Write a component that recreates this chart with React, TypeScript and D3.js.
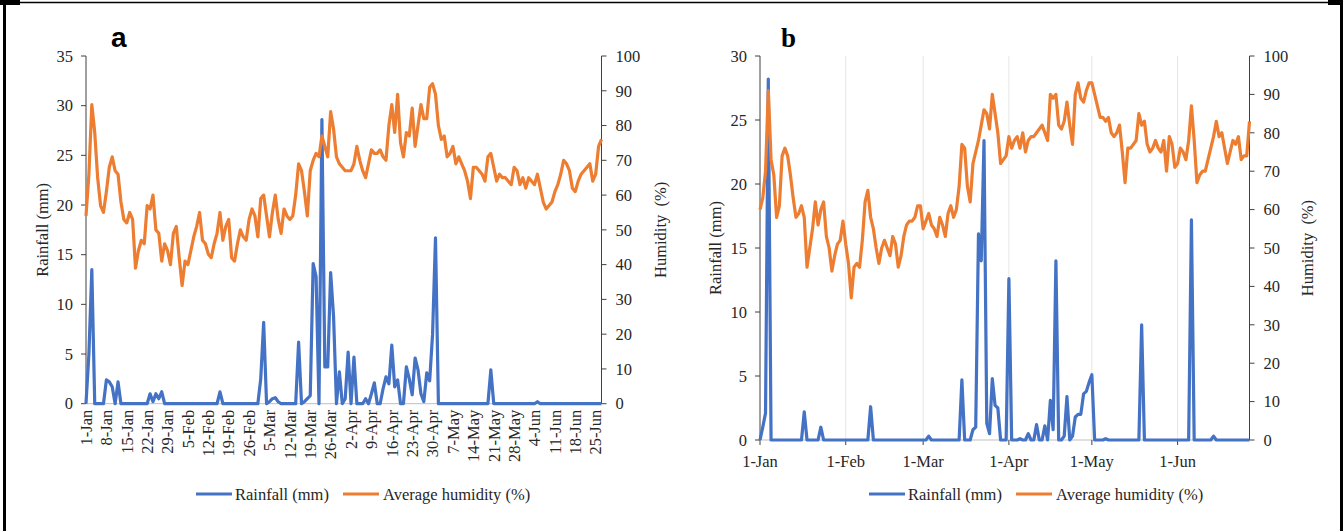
import React from 'react';
import * as d3 from 'd3';

const YEAR = 2021;
const START = new Date(YEAR, 0, 1);

// Panel a tick labels (weekly) and panel b tick labels (monthly)
const aTickLabels = ["1-Jan","8-Jan","15-Jan","22-Jan","29-Jan","5-Feb","12-Feb","19-Feb","26-Feb","5-Mar","12-Mar","19-Mar","26-Mar","2-Apr","9-Apr","16-Apr","23-Apr","30-Apr","7-May","14-May","21-May","28-May","4-Jun","11-Jun","18-Jun","25-Jun"];
const bTickLabels = ["1-Jan","1-Feb","1-Mar","1-Apr","1-May","1-Jun"];

const aRainTicks = [0, 5, 10, 15, 20, 25, 30, 35];
const bRainTicks = [0, 5, 10, 15, 20, 25, 30];
const humTicks = [0, 10, 20, 30, 40, 50, 60, 70, 80, 90, 100];

// Daily series, 1-Jan .. 27-Jun
const aHumidity = [
  54, 66, 86, 78, 65, 57, 55, 61, 68, 71,
  67, 66, 58, 53, 52, 55, 53, 39, 44, 47,
  46, 57, 56, 60, 50, 49, 41, 46, 44, 40,
  49, 51, 42, 34, 41, 40, 44, 48, 51, 55,
  47, 46, 43, 42, 46, 49, 55, 47, 51, 53,
  42, 41, 46, 50, 48, 47, 53, 56, 54, 48,
  59, 60, 54, 48, 55, 60, 53, 49, 56, 54,
  53, 54, 60, 69, 67, 61, 54, 67, 70, 72,
  71, 77, 74, 71, 84, 79, 71, 69, 68, 67,
  67, 67, 69, 74, 70, 67, 65, 69, 73, 72,
  72, 73, 71, 70, 80, 86, 78, 89, 75, 71,
  78, 77, 85, 74, 80, 86, 82, 82, 91, 92,
  89, 80, 76, 77, 71, 72, 74, 69, 71, 69,
  67, 64, 59, 68, 68, 67, 66, 64, 71, 72,
  68, 64, 66, 65, 65, 64, 63, 68, 67, 63,
  65, 62, 65, 64, 63, 66, 62, 58, 56, 57,
  58, 61, 63, 66, 70, 69, 67, 62, 61, 64,
  66, 67, 68, 69, 64, 66, 74, 76
];

const aRainfall = [
  0, 5, 13.5, 0, 0, 0, 0, 2.4, 2.2, 1.7,
  0, 2.2, 0, 0, 0, 0, 0, 0, 0, 0,
  0, 0, 1.0, 0.2, 1.0, 0.5, 1.2, 0, 0, 0,
  0, 0, 0, 0, 0, 0, 0, 0, 0, 0,
  0, 0, 0, 0, 0, 0, 1.2, 0, 0, 0,
  0, 0, 0, 0, 0, 0, 0, 0, 0, 0,
  2.5, 8.2, 0, 0.2, 0.5, 0.6, 0.2, 0, 0, 0,
  0, 0, 0, 6.2, 0, 0.2, 0.5, 0.8, 14.1, 12.8,
  0, 28.6, 3.7, 3.7, 13.2, 8.8, 0, 3.2, 0, 0.5,
  5.2, 0, 4.7, 0, 0, 0, 0.5, 0, 1.0, 2.1,
  0, 0, 1.5, 2.7, 2.0, 5.9, 1.7, 2.4, 0, 0,
  3.7, 2.5, 0.9, 4.6, 3.4, 1.0, 0.2, 3.1, 2.3, 7.0,
  16.7, 0, 0, 0, 0, 0, 0, 0, 0, 0,
  0, 0, 0, 0, 0, 0, 0, 0, 0, 3.4,
  0, 0, 0, 0, 0, 0, 0, 0, 0, 0,
  0, 0, 0, 0, 0, 0.2, 0, 0, 0, 0,
  0, 0, 0, 0, 0, 0, 0, 0, 0, 0,
  0, 0, 0, 0, 0, 0, 0, 0
];

const bHumidity = [
  60, 63, 70, 91, 73, 69, 58, 61, 74, 76,
  74, 69, 63, 58, 59, 61, 58, 45, 50, 55,
  62, 56, 60, 62, 53, 50, 44, 48, 51, 52,
  57, 51, 46, 37, 45, 46, 45, 52, 62, 65,
  58, 55, 50, 46, 50, 52, 50, 48, 53, 51,
  45, 48, 53, 56, 57, 57, 58, 61, 61, 55,
  57, 59, 56, 55, 53, 58, 56, 53, 59, 61,
  58, 60, 66, 77, 76, 66, 62, 72, 75, 78,
  82, 86, 85, 81, 90, 85, 80, 72, 73, 74,
  79, 76, 78, 79, 76, 80, 75, 78, 79, 79,
  80, 81, 82, 80, 78, 90, 89, 90, 82, 81,
  83, 88, 82, 77, 90, 93, 89, 88, 91, 93,
  93, 90, 87, 84, 84, 83, 84, 80, 79, 80,
  82, 75, 67, 76, 76, 77, 78, 85, 82, 83,
  77, 75, 76, 78, 76, 75, 78, 70, 79, 77,
  71, 72, 76, 75, 73, 78, 87, 78, 67, 69,
  70, 70, 73, 76, 79, 83, 79, 80, 76, 72,
  75, 78, 77, 79, 73, 74, 74, 83
];

const bRainfall = [
  0, 1.0, 2.1, 28.2, 0, 0, 0, 0, 0, 0,
  0, 0, 0, 0, 0, 0, 2.2, 0, 0, 0,
  0, 0, 1.0, 0, 0, 0, 0, 0, 0, 0,
  0, 0, 0, 0, 0, 0, 0, 0, 0, 0,
  2.6, 0, 0, 0, 0, 0, 0, 0, 0, 0,
  0, 0, 0, 0, 0, 0, 0, 0, 0, 0,
  0, 0.3, 0, 0, 0, 0, 0, 0, 0, 0,
  0, 0, 0, 4.7, 0, 0, 0, 0.8, 1.0, 16.1,
  14.0, 23.4, 1.3, 0.5, 4.8, 2.7, 2.5, 0, 0, 0,
  12.6, 0, 0, 0, 0.1, 0, 0, 0.5, 0, 0,
  1.2, 0, 0, 1.1, 0, 3.1, 0.8, 14.0, 0, 0,
  0.3, 3.4, 0, 0.3, 1.8, 2.0, 2.0, 3.6, 3.8, 4.5,
  5.1, 0, 0, 0, 0, 0.1, 0, 0, 0, 0,
  0, 0, 0, 0, 0, 0, 0, 0, 9.0, 0,
  0, 0, 0, 0, 0, 0, 0, 0, 0, 0,
  0, 0, 0, 0, 0, 0, 17.2, 0, 0, 0,
  0, 0, 0, 0, 0.3, 0, 0, 0, 0, 0,
  0, 0, 0, 0, 0, 0, 0, 0
];

const BLUE = '#4472C4';
const ORANGE = '#ED7D31';
const AXIS = '#404040';
const TEXT = '#262626';
const SERIF = '"Liberation Serif", "Times New Roman", serif';

const parseLbl = d3.timeParse('%d-%b-%Y');
const dayOf = (lbl: string) => d3.timeDay.count(START, parseLbl(lbl + '-' + YEAR) as Date);

type PanelProps = {
  rain: number[];
  hum: number[];
  x0: number; x1: number; yTop: number; yBot: number;
  rainMax: number; rainTicks: number[];
  letter: string; letterX: number; letterY: number; letterFont: string; letterSize: number;
  leftTitleX: number; rightTitleX: number;
  legendX: number; legendY: number;
  variant: 'a' | 'b';
};

function Panel(p: PanelProps) {
  const n = p.rain.length;
  const x = p.variant === 'a'
    ? (i: number) => d3.scaleLinear().domain([0, n - 1]).range([p.x0, p.x1])(i)
    : (i: number) => d3.scaleTime().domain([START, d3.timeDay.offset(START, n - 1)]).range([p.x0, p.x1])(d3.timeDay.offset(START, i));
  const yL = d3.scaleLinear().domain([0, p.rainMax]).range([p.yBot, p.yTop]);
  const yR = d3.scaleLinear().domain([0, 100]).range([p.yBot, p.yTop]);
  const rainLine = d3.line<number>().x((_, i) => x(i)).y(v => yL(v));
  const humLine = d3.line<number>().x((_, i) => x(i)).y(v => yR(v));
  const midY = (p.yTop + p.yBot) / 2;
  const fs = 16.5;

  return (
    <g>
      {p.variant === 'b' && bTickLabels.slice(1).map(l => (
        <line key={'g' + l} x1={x(dayOf(l))} x2={x(dayOf(l))} y1={p.yTop} y2={p.yBot} stroke="#e6e6e6" strokeWidth={1} />
      ))}
      <line x1={p.x0} x2={p.x1} y1={p.yBot} y2={p.yBot} stroke="#bfbfbf" strokeWidth={1} />
      <line x1={p.x0} x2={p.x0} y1={p.yTop} y2={p.yBot} stroke={AXIS} strokeWidth={1} />
      {p.rainTicks.map(t => (
        <g key={'l' + t}>
          <line x1={p.x0 - 5} x2={p.x0} y1={yL(t)} y2={yL(t)} stroke={AXIS} strokeWidth={1} />
          <text x={p.x0 - 13} y={yL(t)} dy="0.35em" textAnchor="end" fontFamily={SERIF} fontSize={fs} fill={TEXT}>{t}</text>
        </g>
      ))}
      <line x1={p.x1} x2={p.x1} y1={p.yTop} y2={p.yBot} stroke={AXIS} strokeWidth={1} />
      {humTicks.map(t => (
        <g key={'r' + t}>
          <line x1={p.x1} x2={p.x1 + 5} y1={yR(t)} y2={yR(t)} stroke={AXIS} strokeWidth={1} />
          <text x={p.x1 + 14} y={yR(t)} dy="0.35em" textAnchor="start" fontFamily={SERIF} fontSize={fs} fill={TEXT}>{t}</text>
        </g>
      ))}
      {p.variant === 'a'
        ? aTickLabels.map(l => (
          <text key={'x' + l} transform={`translate(${x(dayOf(l))},${p.yBot + 6}) rotate(-90)`} dy="0.35em" textAnchor="end" fontFamily={SERIF} fontSize={fs} fill={TEXT}>{l}</text>
        ))
        : bTickLabels.map(l => (
          <g key={'x' + l}>
            <line x1={x(dayOf(l))} x2={x(dayOf(l))} y1={p.yBot} y2={p.yBot + 5} stroke={AXIS} strokeWidth={1} />
            <text x={x(dayOf(l))} y={p.yBot + 27} textAnchor="middle" fontFamily={SERIF} fontSize={fs} fill={TEXT}>{l}</text>
          </g>
        ))}
      <text transform={`translate(${p.leftTitleX},${midY}) rotate(-90)`} dy="0.35em" textAnchor="middle" fontFamily={SERIF} fontSize={fs} fill={TEXT}>Rainfall (mm)</text>
      <text transform={`translate(${p.rightTitleX},${midY}) rotate(-90)`} dy="0.35em" textAnchor="middle" fontFamily={SERIF} fontSize={fs} fill={TEXT} style={{ whiteSpace: 'pre' }}>{'Humidity  (%)'}</text>
      <path d={rainLine(p.rain) || ''} fill="none" stroke={BLUE} strokeWidth={3.2} strokeLinejoin="round" />
      <path d={humLine(p.hum) || ''} fill="none" stroke={ORANGE} strokeWidth={3.2} strokeLinejoin="round" />
      <text x={p.letterX} y={p.letterY} fontFamily={p.letterFont} fontWeight="bold" fontSize={p.letterSize} fill="#000">{p.letter}</text>
      <line x1={p.legendX} x2={p.legendX + 36} y1={p.legendY} y2={p.legendY} stroke={BLUE} strokeWidth={3.2} />
      <text x={p.legendX + 39} y={p.legendY} dy="0.35em" fontFamily={SERIF} fontSize={16.5} fill={TEXT}>Rainfall (mm)</text>
      <line x1={p.legendX + 147} x2={p.legendX + 183} y1={p.legendY} y2={p.legendY} stroke={ORANGE} strokeWidth={3.2} />
      <text x={p.legendX + 187} y={p.legendY} dy="0.35em" fontFamily={SERIF} fontSize={16.5} fill={TEXT}>Average humidity (%)</text>
    </g>
  );
}

export default function App() {
  return (
    <svg width={1343} height={531} style={{ position: 'absolute', left: 0, top: 0, background: '#fff' }}>
      <rect x={0} y={0} width={1343} height={531} fill="#fff" />
      <Panel rain={aRainfall} hum={aHumidity} x0={86} x1={601.5} yTop={56} yBot={403.7}
        rainMax={35} rainTicks={aRainTicks}
        letter="a" letterX={111} letterY={47} letterFont='"Liberation Sans", Arial, sans-serif' letterSize={28}
        leftTitleX={42} rightTitleX={660} legendX={196} legendY={494} variant="a" />
      <Panel rain={bRainfall} hum={bHumidity} x0={760} x1={1249.5} yTop={56} yBot={440}
        rainMax={30} rainTicks={bRainTicks}
        letter="b" letterX={781} letterY={47} letterFont={SERIF} letterSize={27}
        leftTitleX={715} rightTitleX={1307} legendX={869} legendY={494} variant="b" />
      <line x1={0} x2={1343} y1={2.5} y2={2.5} stroke="#000" strokeWidth={1.5} />
      <line x1={4.5} x2={4.5} y1={0} y2={531} stroke="#000" strokeWidth={3} />
      <line x1={1341.5} x2={1341.5} y1={0} y2={531} stroke="#000" strokeWidth={3} />
      <rect x={0} y={0} width={20} height={5} fill="#000" />
      <rect x={1328} y={0} width={15} height={5} fill="#000" />
    </svg>
  );
}
